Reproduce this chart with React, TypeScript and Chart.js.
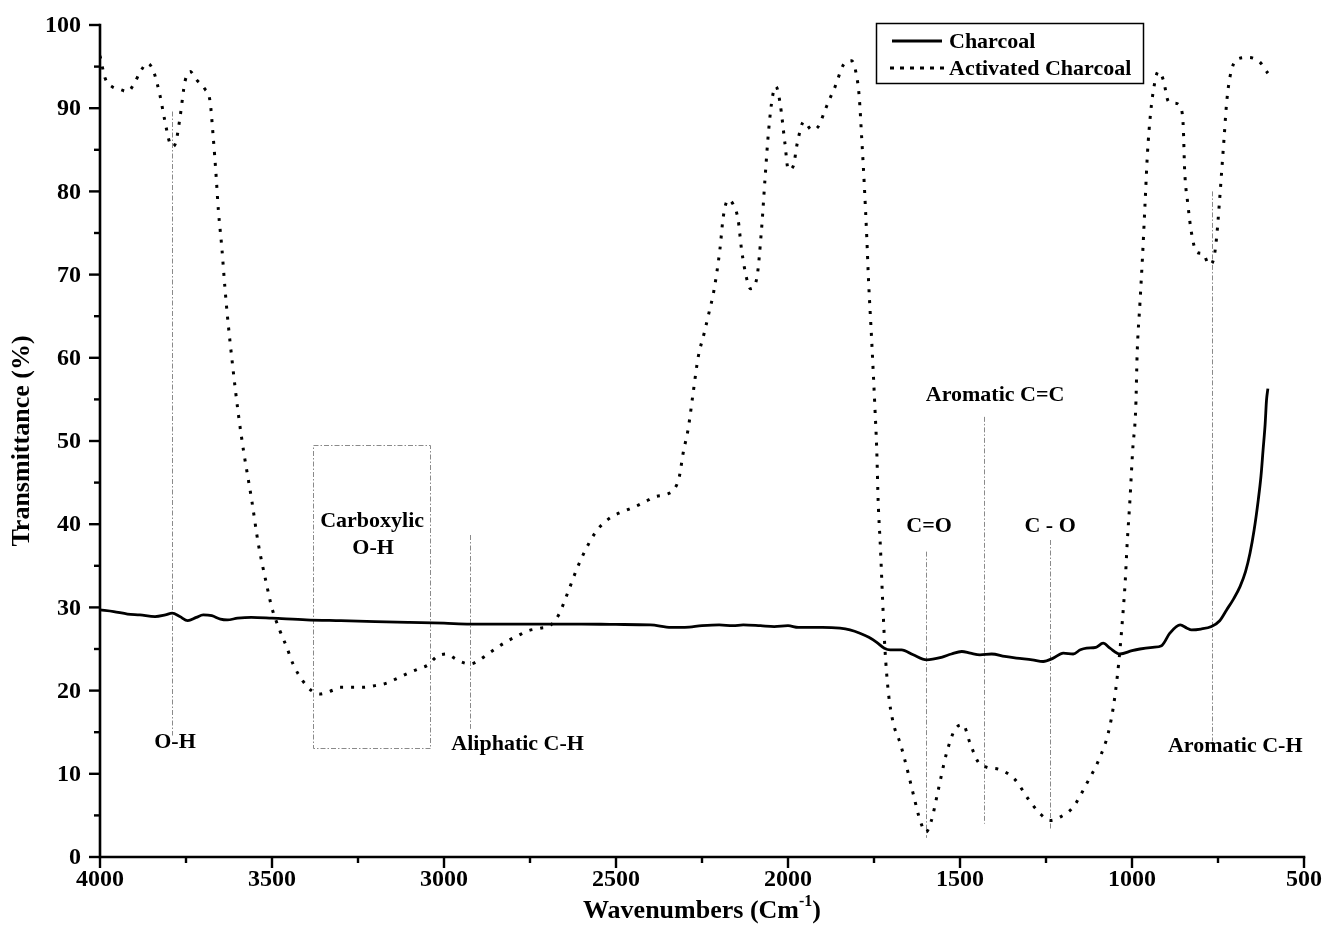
import React, { useEffect, useRef } from 'react';
import { Chart, registerables } from 'chart.js';

Chart.register(...registerables);

// ---------- data ----------
const acWave = [4000, 3985, 3965, 3945, 3920, 3900, 3884, 3862, 3845, 3826, 3812, 3797, 3788, 3779, 3767, 3753, 3738, 3719, 3695, 3680, 3671, 3663, 3656, 3646, 3637, 3630, 3614, 3598, 3583, 3559, 3540, 3517, 3500, 3477, 3457, 3439, 3411, 3385, 3360, 3340, 3320, 3302, 3270, 3235, 3200, 3167, 3135, 3104, 3075, 3046, 3021, 2992, 2970, 2953, 2924, 2900, 2876, 2848, 2818, 2785, 2755, 2720, 2692, 2668, 2639, 2615, 2590, 2560, 2537, 2508, 2475, 2445, 2415, 2387, 2353, 2329, 2316, 2305, 2290, 2276, 2261, 2244, 2227, 2217, 2198, 2188, 2174, 2159, 2145, 2135, 2120, 2109, 2091, 2077, 2067, 2057, 2045, 2035, 2023, 2009, 1999, 1985, 1973, 1954, 1931, 1912, 1892, 1878, 1863, 1839, 1815, 1802, 1793, 1786, 1778, 1771, 1766, 1757, 1747, 1742, 1738, 1731, 1725, 1718, 1708, 1694, 1674, 1655, 1636, 1616, 1599, 1583, 1563, 1539, 1515, 1491, 1471, 1447, 1423, 1384, 1340, 1302, 1267, 1238, 1209, 1171, 1132, 1093, 1069, 1054, 1043, 1035, 1027, 1020, 1014, 1006, 998, 989, 985, 977, 969, 962, 955, 946, 936, 924, 909, 894, 875, 858, 851, 847, 838, 827, 812, 793, 776, 763, 754, 746, 739, 732, 725, 715, 694, 662, 630, 605];
const acT = [96.3, 93.6, 92.6, 92.3, 92.0, 93.0, 94.3, 95.4, 94.5, 91.6, 88.6, 85.8, 85.4, 86.0, 89.0, 93.2, 94.4, 93.4, 92.3, 90.8, 86.6, 82.2, 77.8, 73.3, 68.5, 65.2, 58.9, 53.3, 48.9, 42.9, 37.7, 33.0, 29.9, 27.2, 25.2, 23.2, 21.2, 20.0, 19.6, 19.8, 20.1, 20.4, 20.4, 20.4, 20.6, 20.9, 21.5, 22.1, 22.6, 23.1, 24.1, 24.4, 23.9, 23.5, 23.2, 23.6, 24.3, 25.1, 25.9, 26.6, 27.2, 27.5, 27.8, 29.0, 31.9, 34.5, 36.8, 39.0, 40.1, 41.0, 41.6, 42.1, 42.7, 43.3, 43.6, 44.3, 45.7, 48.5, 51.5, 55.7, 60.1, 62.9, 65.9, 67.7, 73.0, 77.0, 79.0, 78.4, 76.6, 73.0, 69.5, 68.3, 69.5, 75.4, 81.4, 87.0, 91.4, 92.6, 90.6, 85.8, 82.6, 83.0, 85.8, 88.4, 87.4, 87.8, 89.8, 91.2, 92.6, 95.2, 95.7, 94.2, 91.4, 86.6, 80.6, 74.5, 69.4, 62.3, 53.7, 48.9, 42.9, 36.9, 30.9, 24.9, 19.7, 16.1, 13.7, 10.8, 7.6, 4.4, 3.0, 4.4, 8.1, 12.5, 15.3, 15.9, 13.7, 11.4, 10.8, 10.5, 9.3, 7.0, 5.2, 4.4, 4.8, 6.0, 8.8, 12.0, 14.9, 18.1, 21.6, 24.9, 28.9, 32.9, 37.7, 42.9, 48.9, 54.1, 60.5, 66.5, 72.5, 78.6, 84.6, 89.4, 92.6, 94.4, 93.4, 90.8, 90.6, 90.0, 87.8, 82.6, 78.6, 75.0, 72.7, 72.5, 71.2, 71.8, 74.5, 78.6, 82.6, 86.6, 90.6, 93.8, 95.9, 96.1, 95.6, 94.2];

const chWave = [4000, 3960, 3920, 3884, 3840, 3810, 3790, 3768, 3745, 3720, 3700, 3675, 3650, 3630, 3600, 3560, 3500, 3400, 3300, 3200, 3100, 3000, 2924, 2800, 2700, 2600, 2500, 2400, 2340, 2300, 2250, 2200, 2160, 2130, 2080, 2040, 2000, 1970, 1940, 1900, 1849, 1820, 1791, 1765, 1742, 1720, 1703, 1670, 1636, 1597, 1554, 1525, 1495, 1470, 1442, 1408, 1370, 1336, 1290, 1258, 1229, 1200, 1171, 1150, 1132, 1105, 1084, 1064, 1035, 1000, 977, 940, 914, 890, 860, 840, 827, 800, 769, 745, 725, 705, 686, 670, 657, 645, 633, 625, 619, 613, 609, 605];
const chT = [29.7, 29.5, 29.2, 29.1, 28.9, 29.1, 29.3, 28.9, 28.4, 28.8, 29.1, 29.0, 28.6, 28.5, 28.7, 28.8, 28.7, 28.5, 28.4, 28.3, 28.2, 28.1, 28.0, 28.0, 28.0, 28.0, 27.95, 27.9, 27.6, 27.6, 27.8, 27.9, 27.8, 27.9, 27.8, 27.7, 27.8, 27.6, 27.6, 27.6, 27.5, 27.3, 26.9, 26.4, 25.8, 25.1, 24.9, 24.9, 24.3, 23.7, 24.0, 24.4, 24.7, 24.5, 24.3, 24.4, 24.1, 23.9, 23.7, 23.5, 23.9, 24.5, 24.4, 24.9, 25.1, 25.2, 25.7, 25.1, 24.4, 24.8, 25.0, 25.2, 25.4, 26.9, 27.9, 27.5, 27.3, 27.4, 27.7, 28.4, 29.7, 31.0, 32.5, 34.3, 36.5, 39.3, 42.9, 45.8, 48.9, 52.0, 54.9, 56.3];

const seriesNames = ['Charcoal', 'Activated Charcoal'];
const xTicks = [4000, 3500, 3000, 2500, 2000, 1500, 1000, 500];
const yTicks = [0, 10, 20, 30, 40, 50, 60, 70, 80, 90, 100];

// marker lines: wavenumber, from T, to T
const markerWave = [3791, 2924, 1599, 1430, 1238, 767];
const markerFrom = [14.6, 15.4, 2.3, 4.0, 3.2, 13.9];
const markerTo = [89.6, 38.7, 36.7, 52.9, 38.1, 80.0];

// carboxylic box: wavenumber range and T range
const boxWave = [3381, 3041];
const boxT = [13.1, 49.5];

// labels
const labelText = ['O-H', 'Carboxylic', 'O-H', 'Aliphatic C-H', 'C=O', 'Aromatic C=C', 'C - O', 'Aromatic C-H'];
const labelWave = [3782, 3209, 3206, 2786, 1590, 1398, 1238, 700];
const labelT = [13.8, 40.4, 37.1, 13.6, 39.8, 55.5, 39.8, 13.3];

const SERIF = '"Liberation Serif", "Times New Roman", serif';
const bold = (s: number) => `bold ${s}px ${SERIF}`;

const overlayPlugin = {
  id: 'overlay',
  beforeDatasetsDraw(chart: any) {
    const { ctx, scales } = chart;
    const x = scales.x, y = scales.y;
    ctx.save();
    ctx.strokeStyle = '#8a8a8a';
    ctx.lineWidth = 1;
    ctx.setLineDash([5, 2, 1.5, 2]);
    for (let i = 0; i < markerWave.length; i++) {
      const px = Math.round(x.getPixelForValue(markerWave[i])) + 0.5;
      ctx.beginPath();
      ctx.moveTo(px, y.getPixelForValue(markerTo[i]));
      ctx.lineTo(px, y.getPixelForValue(markerFrom[i]));
      ctx.stroke();
    }
    const bx0 = Math.round(x.getPixelForValue(boxWave[0])) + 0.5;
    const bx1 = Math.round(x.getPixelForValue(boxWave[1])) + 0.5;
    const by0 = Math.round(y.getPixelForValue(boxT[1])) + 0.5;
    const by1 = Math.round(y.getPixelForValue(boxT[0])) + 0.5;
    ctx.strokeRect(bx0, by0, bx1 - bx0, by1 - by0);
    ctx.restore();
  },
  afterDraw(chart: any) {
    const { ctx, scales, chartArea } = chart;
    const x = scales.x, y = scales.y;
    const { left, right, top, bottom } = chartArea;
    ctx.save();
    ctx.setLineDash([]);
    ctx.strokeStyle = '#000';
    ctx.fillStyle = '#000';
    // axes
    ctx.lineWidth = 2.6;
    ctx.lineCap = 'square';
    ctx.beginPath();
    ctx.moveTo(left, top);
    ctx.lineTo(left, bottom);
    ctx.lineTo(right, bottom);
    ctx.stroke();
    ctx.lineCap = 'butt';
    ctx.lineWidth = 2.4;
    // x ticks
    for (let v = 500; v <= 4000; v += 250) {
      const px = x.getPixelForValue(v);
      const len = v % 500 === 0 ? 11 : 6;
      ctx.beginPath();
      ctx.moveTo(px, bottom);
      ctx.lineTo(px, bottom + len);
      ctx.stroke();
    }
    // y ticks
    for (let v = 0; v <= 100; v += 5) {
      const py = y.getPixelForValue(v);
      const len = v % 10 === 0 ? 11 : 6;
      ctx.beginPath();
      ctx.moveTo(left, py);
      ctx.lineTo(left - len, py);
      ctx.stroke();
    }
    // tick labels
    ctx.font = bold(24);
    ctx.textAlign = 'center';
    ctx.textBaseline = 'middle';
    xTicks.forEach((v) => ctx.fillText(String(v), x.getPixelForValue(v), bottom + 23));
    ctx.textAlign = 'right';
    yTicks.forEach((v) => ctx.fillText(String(v), left - 19, y.getPixelForValue(v) + 1));
    // y title
    ctx.save();
    ctx.translate(22, (top + bottom) / 2);
    ctx.rotate(-Math.PI / 2);
    ctx.textAlign = 'center';
    ctx.font = bold(26);
    ctx.fillText('Transmittance (%)', 0, 0);
    ctx.restore();
    // x title with superscript
    {
      const main = 'Wavenumbers (Cm';
      const sup = '-1';
      const end = ')';
      ctx.font = bold(26);
      const w1 = ctx.measureText(main).width;
      const w3 = ctx.measureText(end).width;
      ctx.font = bold(16);
      const w2 = ctx.measureText(sup).width;
      const total = w1 + w2 + w3;
      let sx = (left + right) / 2 - total / 2;
      const ty = 911;
      ctx.textAlign = 'left';
      ctx.font = bold(26);
      ctx.fillText(main, sx, ty);
      sx += w1;
      ctx.font = bold(16);
      ctx.fillText(sup, sx, ty - 9);
      sx += w2;
      ctx.font = bold(26);
      ctx.fillText(end, sx, ty);
    }
    // annotation labels
    ctx.font = bold(22);
    ctx.textAlign = 'center';
    ctx.textBaseline = 'middle';
    for (let i = 0; i < labelText.length; i++) {
      ctx.fillText(labelText[i], x.getPixelForValue(labelWave[i]), y.getPixelForValue(labelT[i]));
    }
    // legend
    const lx = 876, ly = 23, lw = 267, lh = 60;
    ctx.lineWidth = 1.5;
    ctx.strokeRect(lx + 0.5, ly + 0.5, lw, lh);
    const rows = [41, 68];
    ctx.lineWidth = 2.8;
    ctx.beginPath();
    ctx.moveTo(892, rows[0]);
    ctx.lineTo(942, rows[0]);
    ctx.stroke();
    ctx.lineWidth = 3;
    ctx.setLineDash([4, 6]);
    ctx.beginPath();
    ctx.moveTo(890, rows[1]);
    ctx.lineTo(944, rows[1]);
    ctx.stroke();
    ctx.setLineDash([]);
    ctx.font = bold(22);
    ctx.textAlign = 'left';
    ctx.fillText(seriesNames[0], 949, rows[0] + 1);
    ctx.fillText(seriesNames[1], 949, rows[1] + 1);
    ctx.restore();
  },
};

export default function App() {
  const ref = useRef<HTMLCanvasElement | null>(null);
  useEffect(() => {
    document.body.style.margin = '0';
    if (!ref.current) return;
    const chart = new Chart(ref.current, {
      type: 'line',
      data: {
        datasets: [
          {
            label: seriesNames[0],
            data: chWave.map((w, i) => ({ x: w, y: chT[i] })),
            borderColor: '#000',
            borderWidth: 2.8,
            pointRadius: 0,
            cubicInterpolationMode: 'monotone',
            fill: false,
          },
          {
            label: seriesNames[1],
            data: acWave.map((w, i) => ({ x: w, y: acT[i] })),
            borderColor: '#000',
            borderWidth: 3,
            borderDash: [3, 8],
            borderCapStyle: 'butt',
            pointRadius: 0,
            cubicInterpolationMode: 'monotone',
            fill: false,
          },
        ],
      },
      options: {
        animation: false,
        responsive: false,
        maintainAspectRatio: false,
        layout: { padding: { top: 25, right: 20, left: 0, bottom: 0 } },
        plugins: { legend: { display: false }, tooltip: { enabled: false } },
        scales: {
          x: {
            type: 'linear',
            min: 500,
            max: 4000,
            reverse: true,
            grid: { display: false, drawTicks: false },
            border: { display: false },
            ticks: { display: false },
            afterFit: (s: any) => { s.height = 69; },
          },
          y: {
            type: 'linear',
            min: 0,
            max: 100,
            grid: { display: false, drawTicks: false },
            border: { display: false },
            ticks: { display: false },
            afterFit: (s: any) => { s.width = 100; },
          },
        },
      } as any,
      plugins: [overlayPlugin],
    });
    return () => chart.destroy();
  }, []);
  return (
    <div style={{ width: 1324, height: 926, background: '#fff' }}>
      <canvas ref={ref} width={1324} height={926} style={{ display: 'block' }} />
    </div>
  );
}
